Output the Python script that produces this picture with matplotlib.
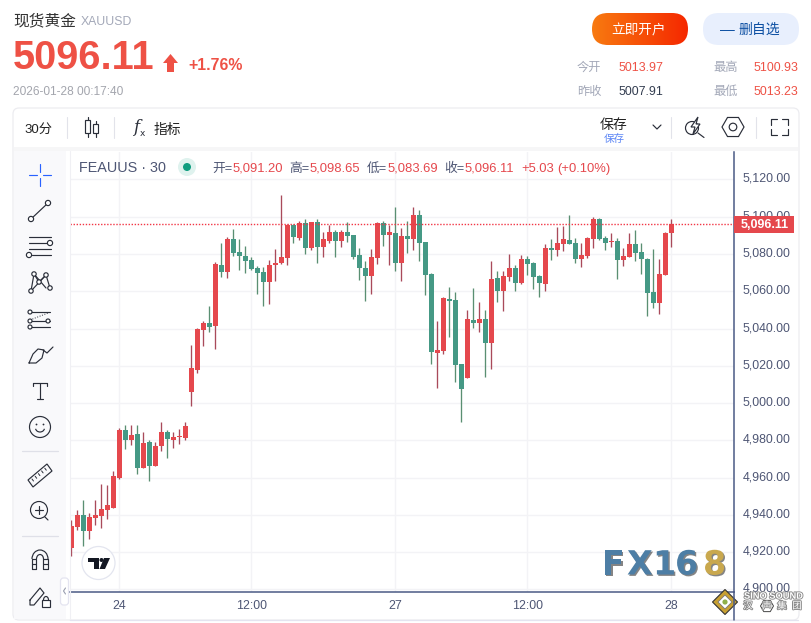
import matplotlib
matplotlib.use('Agg')
import matplotlib.pyplot as plt
import matplotlib.patheffects as pe
import numpy as np
from matplotlib.patches import Circle, FancyBboxPatch, Polygon, Rectangle, RegularPolygon, Arc
from matplotlib.transforms import ScaledTranslation

plt.rcParams['font.family'] = ['Liberation Sans', 'Noto Sans CJK SC']

# 30 minute candles
candle_open = [4922.4, 4933.7, 4940.0, 4931.4, 4938.4, 4939.4, 4942.6, 4943.7, 4959.8, 4985.6,
               4980.2, 4983.4, 4965.2, 4979.1, 4966.3, 4977.0, 4984.5, 4980.2, 4981.8, 4981.3,
               5005.9, 5018.0, 5039.2, 5043.0, 5041.4, 5074.1, 5070.3, 5088.0, 5081.1, 5078.9,
               5076.8, 5072.5, 5070.3, 5065.0, 5074.1, 5075.2, 5077.8, 5095.5, 5088.5, 5096.6,
               5083.2, 5097.2, 5083.7, 5087.0, 5091.8, 5087.0, 5091.8, 5090.2, 5079.5, 5072.5,
               5068.2, 5077.8, 5096.6, 5090.2, 5091.3, 5075.2, 5089.6, 5088.0, 5100.9, 5086.4,
               5069.3, 5026.9, 5028.0, 5055.8, 5055.3, 5021.0, 5013.5, 5044.6, 5043.0, 5045.1,
               5032.2, 5067.1, 5060.1, 5067.6, 5072.5, 5064.4, 5077.3, 5075.2, 5068.2, 5063.9,
               5083.2, 5082.1, 5085.4, 5087.5, 5085.9, 5077.3, 5078.9, 5088.0, 5098.8, 5088.5,
               5086.4, 5087.0, 5076.8, 5078.4, 5085.4, 5081.1, 5077.3, 5059.6, 5053.7, 5068.7,
               5091.20]
candle_high = [4937.3, 4942.6, 4948.0, 4940.9, 4948.0, 4956.6, 4956.1, 4963.6, 4986.6, 4988.3,
               4988.3, 4988.3, 4984.5, 4980.2, 4979.1, 4989.9, 4985.6, 4984.5, 4986.1, 4989.9,
               5031.2, 5040.3, 5044.0, 5052.1, 5075.7, 5085.9, 5089.1, 5093.4, 5088.0, 5084.3,
               5078.4, 5073.5, 5073.0, 5076.8, 5082.7, 5111.6, 5096.1, 5096.1, 5097.7, 5098.8,
               5097.2, 5098.8, 5091.8, 5095.5, 5092.9, 5092.9, 5097.2, 5090.2, 5083.2, 5076.2,
               5082.7, 5097.2, 5097.7, 5095.5, 5105.2, 5093.9, 5097.7, 5105.2, 5103.6, 5086.4,
               5069.8, 5044.0, 5056.9, 5062.3, 5059.6, 5021.0, 5050.0, 5061.7, 5054.2, 5050.0,
               5076.2, 5070.9, 5070.9, 5080.0, 5074.1, 5079.5, 5078.9, 5075.7, 5068.7, 5085.4,
               5088.0, 5094.5, 5095.0, 5100.9, 5088.5, 5085.9, 5089.1, 5099.8, 5099.3, 5089.6,
               5091.3, 5088.5, 5083.2, 5091.3, 5092.9, 5085.9, 5077.8, 5082.7, 5077.3, 5091.8,
               5098.65]
candle_low = [4918.1, 4931.9, 4923.3, 4927.1, 4934.6, 4933.0, 4937.8, 4943.7, 4959.3, 4975.4,
              4977.5, 4962.0, 4965.2, 4958.2, 4966.3, 4974.3, 4970.5, 4975.9, 4978.1, 4980.2,
              4998.4, 5016.3, 5030.6, 5038.1, 5029.0, 5067.6, 5067.1, 5078.9, 5071.4, 5069.8,
              5071.4, 5058.5, 5052.1, 5053.2, 5065.5, 5074.6, 5074.1, 5085.9, 5087.5, 5080.0,
              5082.1, 5075.2, 5078.4, 5085.9, 5078.4, 5083.7, 5086.4, 5077.3, 5066.0, 5054.8,
              5058.5, 5074.6, 5084.3, 5074.1, 5070.9, 5065.5, 5080.5, 5082.1, 5076.2, 5058.0,
              5021.0, 5008.1, 5026.3, 5035.5, 5011.3, 4989.9, 5013.5, 5040.3, 5038.1, 5014.0,
              5018.3, 5054.2, 5049.4, 5065.5, 5060.1, 5063.9, 5068.7, 5061.2, 5056.9, 5060.1,
              5076.8, 5078.9, 5081.6, 5085.4, 5075.2, 5073.0, 5077.8, 5083.2, 5087.5, 5082.1,
              5083.7, 5066.6, 5073.5, 5078.4, 5076.2, 5069.3, 5046.7, 5051.0, 5047.8, 5068.7,
              5083.69]
candle_close = [4934.1, 4940.0, 4931.4, 4938.9, 4940.0, 4943.2, 4945.3, 4960.9, 4985.6, 4980.2,
                4982.9, 4965.2, 4978.6, 4966.3, 4977.0, 4984.5, 4980.7, 4981.8, 4982.3, 4987.8,
                5018.8, 5039.7, 5042.8, 5040.8, 5074.6, 5070.3, 5088.0, 5080.5, 5078.9, 5076.2,
                5071.9, 5069.8, 5065.0, 5074.1, 5075.2, 5078.4, 5095.5, 5089.1, 5096.6, 5083.2,
                5097.2, 5083.7, 5088.0, 5091.8, 5087.0, 5091.8, 5089.6, 5078.4, 5072.5, 5068.2,
                5078.4, 5096.6, 5090.2, 5091.8, 5075.2, 5089.6, 5088.0, 5100.9, 5085.9, 5068.7,
                5027.4, 5028.5, 5056.4, 5054.8, 5020.4, 5007.6, 5045.1, 5043.0, 5045.1, 5032.2,
                5066.6, 5060.1, 5068.2, 5072.5, 5064.4, 5077.3, 5074.6, 5067.6, 5064.4, 5083.2,
                5082.1, 5085.9, 5088.0, 5085.4, 5077.3, 5079.5, 5088.5, 5098.8, 5088.0, 5085.9,
                5087.0, 5076.8, 5078.9, 5085.4, 5080.5, 5077.3, 5059.1, 5053.7, 5069.3, 5091.3,
                5096.11]

last_price = 5096.11
price_ticks = [5120, 5100, 5080, 5060, 5040, 5020, 5000, 4980, 4960, 4940, 4920, 4900]
time_ticks = [8, 30, 54, 76, 100]
time_labels = ['24', '12:00', '27', '12:00', '28']

UP = '#e5484d'
DOWN = '#459985'
UP_WICK = '#a94a5a'
DOWN_WICK = '#5a8f72'
AXIS = '#4a5a85'
LABEL = '#4e5674'
ICON = '#2a2e39'
RED = '#ee5145'

W, H = 812, 623
fig = plt.figure(figsize=(W / 100, H / 100), dpi=100, facecolor='white')

# price chart
ax = fig.add_axes([70 / W, 1 - 592 / H, 664.3 / W, 440 / H], facecolor='white')
ax.set_xlim(-0.217, 110.5)
ax.set_ylim(4898.65, 5134.71)

ax.set_yticks(price_ticks)
ax.set_yticklabels(['{:,.2f}'.format(v) for v in price_ticks])
ax.set_xticks(time_ticks)
ax.set_xticklabels(time_labels)
ax.yaxis.tick_right()
ax.tick_params(length=0, labelsize=8.9, labelcolor=LABEL)
ax.tick_params(axis='y', pad=6)
ax.tick_params(axis='x', pad=6)
shift = ScaledTranslation(0, 2 / 100, fig.dpi_scale_trans)
for lab in ax.get_yticklabels():
    lab.set_transform(lab.get_transform() + shift)
ax.grid(color='#f3f3f6', lw=1)
ax.set_axisbelow(True)
for side in ['top', 'left']:
    ax.spines[side].set_visible(False)
for side in ['bottom', 'right']:
    ax.spines[side].set_color(AXIS)
    ax.spines[side].set_linewidth(1.1)

xs = np.arange(len(candle_open))
opens = np.array(candle_open)
closes = np.array(candle_close)
is_up = closes >= opens
ax.vlines(xs, candle_low, candle_high, colors=np.where(is_up, UP_WICK, DOWN_WICK), lw=0.95, zorder=2)
ax.bar(xs, np.maximum(np.abs(closes - opens), 0.6), bottom=np.minimum(opens, closes),
       width=0.83, color=np.where(is_up, UP, DOWN), zorder=3)
ax.axhline(last_price, color='#f23645', lw=1, ls=(0, (1, 1.2)), zorder=4)

# everything around the chart is drawn in pixel coordinates
ui = fig.add_axes([0, 0, 1, 1], zorder=5)
ui.patch.set_alpha(0)
ui.axis('off')


def label(x, y, s, size=8.6, color='#333333', ha='left', **kw):
    # the CJK fallback pushes centred text up a little
    ui.text(x, y + 2.7, s, fontsize=size, color=color, ha=ha, va='center', **kw)


def line(xx, yy, color=ICON, lw=0.85):
    ui.plot(xx, yy, color=color, lw=lw, solid_capstyle='round')


def dot(x, y, r=2.6):
    ui.add_patch(Circle((x, y), r, fc='white', ec=ICON, lw=0.85, zorder=4))


# header
label(13, 18.6, '现货黄金', 11.3)
label(81, 19, 'XAUUSD', 8.8, '#a3a8b8')
label(13, 55, '5096.11', 28.6, RED, weight='bold')
ui.add_patch(Polygon([(170.5, 54), (178, 63), (174, 63), (174, 72), (167, 72), (167, 63), (163, 63)], fc=RED))
label(188, 63, '+1.76%', 11.4, RED, weight='bold')
label(13, 89, '2026-01-28 00:17:40', 8.6, '#a3a5ad')

btn = FancyBboxPatch((592, 13), 96, 32, boxstyle='round,pad=0,rounding_size=16', fc='none', ec='none')
ui.add_patch(btn)
grad = np.linspace(0, 1, 96).reshape(1, -1, 1)
grad = (1 - grad) * np.array([0.973, 0.478, 0.063]) + grad * np.array([0.961, 0.157, 0.0])
im = ui.imshow(grad, extent=(592, 688, 45, 13), aspect='auto')
im.set_clip_path(btn)
label(639, 27.5, '立即开户', 9.8, 'white', ha='center')
ui.add_patch(FancyBboxPatch((703, 13), 96, 32, boxstyle='round,pad=0,rounding_size=16', fc='#e8effd', ec='none'))
label(720, 27.5, '—', 10.6, '#0b4ea2')
label(738, 27.5, '删自选', 10, '#0b4ea2')

for x, y, s in [(577, 65, '今开'), (713, 65, '最高'), (577, 89, '昨收'), (713, 89, '最低')]:
    label(x, y, s, 8.8, '#a3a8b8')
label(619, 65, '5013.97', 8.9, RED)
label(754, 65, '5100.93', 8.9, RED)
label(619, 89, '5007.91', 8.9, '#333d50')
label(754, 89, '5013.23', 8.9, RED)

# panel, toolbar bands
ui.add_patch(FancyBboxPatch((13, 108), 786, 512, boxstyle='round,pad=0,rounding_size=6', fc='none', ec='#ececf0', lw=0.9, zorder=1))
ui.add_patch(Rectangle((14, 147), 784, 4, fc='#f6f6f7', ec='none'))
ui.add_patch(Rectangle((14, 151), 52, 468, fc='#f9f9fb', ec='none'))
line([70, 70], [151, 620], '#f0f0f4', 0.8)
line([70, 798], [620, 620], '#e4e4f0', 0.9)
line([734.3, 734.3], [592, 620], AXIS, 1.1)

# top toolbar
label(24, 127.5, '30分', 9.5, '#222222')
for x in [67, 114, 671, 756]:
    line([x, x], [117, 138], '#e2e3ea', 0.8)
line([87.7, 87.7], [117, 137])
ui.add_patch(Rectangle((85.5, 120), 4.4, 13, fc='white', ec=ICON, lw=0.85, zorder=4))
line([95.6, 95.6], [121, 137])
ui.add_patch(Rectangle((93.5, 124), 4.2, 9, fc='white', ec=ICON, lw=0.85, zorder=4))
ui.text(136, 127, 'f', fontsize=12, family='DejaVu Serif', style='italic', ha='center', va='center', color=ICON)
ui.text(142, 133, 'x', fontsize=6.5, family='DejaVu Sans', ha='center', va='center', color=ICON)
label(154, 127.5, '指标', 9.9, '#222222')
label(614, 122, '保存', 10, '#222222', ha='center')
label(614, 136, '保存', 7.6, '#5b85f5', ha='center')
line([653, 657, 661], [125, 129, 125])
ui.add_patch(Circle((692, 128), 6.5, fc='none', ec=ICON, lw=0.85))
ui.add_patch(Polygon([(698, 117), (691, 127), (695, 127), (693, 134), (700, 124), (696, 124)], fc='white', ec=ICON, lw=0.85, zorder=4))
line([698, 704], [133, 137.5])
ui.add_patch(RegularPolygon((733, 127), 6, radius=11, orientation=np.pi / 6, fc='none', ec=ICON, lw=0.85))
ui.add_patch(Circle((733, 127), 3.8, fc='none', ec=ICON, lw=0.85))
for cx, cy, dx, dy in [(771, 119, 1, 1), (788, 119, -1, 1), (771, 135, 1, -1), (788, 135, -1, -1)]:
    line([cx + 6 * dx, cx, cx], [cy, cy, cy + 6 * dy])

# legend line
label(79, 165.6, 'FEAUUS · 30', 10.4, LABEL)
ui.add_patch(Circle((187, 167), 9, fc='#dff2ee', ec='none'))
ui.add_patch(Circle((187, 167), 4, fc='#0f9d7f', ec='none'))
for x, s in [(212, '开='), (289.7, '高='), (366.7, '低='), (443.7, '收=')]:
    label(x, 166, s, 9.2, LABEL)
for x, s in [(232.7, '5,091.20'), (310, '5,098.65'), (387.3, '5,083.69'), (464.3, '5,096.11'),
             (521.3, '+5.03'), (557.7, '(+0.10%)')]:
    label(x, 166, s, 9.4, UP)

# left toolbar
blue = '#2962ff'
line([29, 37], [175, 175], blue)
line([43, 51], [175, 175], blue)
line([40, 40], [164, 172], blue)
line([40, 40], [178, 186], blue)
line([31, 48], [219, 203])
dot(31, 219)
dot(48, 203)
line([29, 51], [237, 237])
line([29, 48], [243, 243])
line([29, 51], [249, 249])
line([32, 51], [255, 255])
dot(50, 243)
dot(29, 255)
line([31, 34, 39, 46, 50], [291, 274, 282, 275, 288])
line([34, 46], [274, 288])
line([31, 46], [291, 275])
for px, py in [(31, 291), (34, 274), (39, 282), (46, 275), (50, 288)]:
    dot(px, py, 2.2)
line([30, 50], [312, 312])
line([30, 50], [321, 321])
line([30, 50], [327, 327])
ui.plot([30, 48], [320, 313], color=ICON, lw=0.7, ls=':')
dot(30, 312, 2)
dot(30, 321, 2)
dot(48, 321, 2)
dot(30, 327, 2)
line([29, 33, 38, 44, 42, 36, 29], [363, 354, 349, 350, 358, 363, 363])
line([43, 47, 53], [350, 353, 347])
line([33, 47], [383, 383])
line([40, 40], [383, 399])
line([33, 33], [383, 386])
line([47, 47], [383, 386])
line([37, 43], [399, 399])
ui.add_patch(Circle((40, 427), 10.5, fc='none', ec=ICON, lw=0.85))
ui.add_patch(Circle((36.5, 424.5), 0.9, fc=ICON))
ui.add_patch(Circle((43.5, 424.5), 0.9, fc=ICON))
ui.add_patch(Arc((40, 428), 9, 8, theta1=10, theta2=170, ec=ICON, lw=0.85))
line([22, 58], [451, 451], '#dfe0e8', 0.9)
ui.add_patch(Polygon([(28, 480), (47, 464), (52, 471), (33, 487)], fc='none', ec=ICON, lw=0.85))
for k in range(5):
    line([32 + 3.2 * k, 33.5 + 3.2 * k], [479 - 2.7 * k, 481 - 2.7 * k], ICON, 0.7)
ui.add_patch(Circle((39, 510), 8.5, fc='none', ec=ICON, lw=0.85))
line([45, 48], [517, 520])
line([35, 43], [510, 510])
line([39, 39], [506, 514])
line([22, 58], [536, 536], '#dfe0e8', 0.9)
ui.add_patch(Arc((40, 559), 16, 18, theta1=180, theta2=360, ec=ICON, lw=0.85))
ui.add_patch(Arc((40, 559), 7, 9, theta1=180, theta2=360, ec=ICON, lw=0.85))
line([32, 32, 36.5, 36.5, 32], [559, 569, 569, 559, 559])
line([43.5, 43.5, 48, 48, 43.5], [559, 569, 569, 559, 559])
line([32, 36.5], [564, 564])
line([43.5, 48], [564, 564])
line([30, 30, 34, 44, 40, 30], [600, 605, 605, 593, 588, 600])
ui.add_patch(Rectangle((42, 600), 8, 7, fc='white', ec=ICON, lw=0.85, zorder=4))
ui.add_patch(Arc((46, 600), 5, 7, theta1=180, theta2=360, ec=ICON, lw=0.85))
ui.add_patch(FancyBboxPatch((60.5, 578), 8, 27, boxstyle='round,pad=0,rounding_size=3', fc='white', ec='#e4e4f0', lw=0.9))
line([65.5, 63.5, 65.5], [588, 591, 594], '#9a9fb0', 0.8)

# price tag on the axis
ui.add_patch(Rectangle((734.5, 216), 60, 17, fc=UP, ec='none'))
label(741, 221.8, '{:,.2f}'.format(last_price), 9, 'white', weight='bold')

# tradingview badge
ui.add_patch(Circle((98.5, 563), 16.5, fc='white', ec='#e3e5ef', lw=0.9))
ui.add_patch(Polygon([(88, 558), (99, 558), (99, 569), (94, 569), (94, 562), (88, 562)], fc='#131722'))
ui.add_patch(Circle((101.5, 560), 2, fc='#131722'))
ui.add_patch(Polygon([(104, 558), (110, 558), (105, 569), (99.5, 569)], fc='#131722'))

# fx168 mark
shadow = [pe.withSimplePatchShadow(offset=(1, -1), shadow_rgbFace='#333333', alpha=0.6)]
for x, s, c in [(602, 'F', '#4d7ea5'), (627, 'X', '#4d7ea5'), (653, '1', '#4d7ea5'), (675, '6', '#4d7ea5'), (703, '8', '#c9a84e')]:
    ui.text(x, 565, s, fontsize=24, family='DejaVu Sans', weight='bold', color=c, ha='left', va='center', path_effects=shadow)

# sino sound mark
ui.add_patch(RegularPolygon((725, 602), 4, radius=12.5, fc='#c8a032', ec='#333333', lw=0.8))
ui.add_patch(RegularPolygon((725, 602), 4, radius=7, fc='white', ec='#777777', lw=0.6))
ui.add_patch(Circle((725, 602), 2.6, fc='#8fb04a', ec='none'))
halo = [pe.withStroke(linewidth=1.3, foreground='#8a8a8a')]
label(744, 593.5, 'SINO SOUND', 6.7, 'white', weight='bold', path_effects=halo)
ui.add_patch(RegularPolygon((767, 606), 6, radius=6.5, orientation=np.pi / 6, fc='none', ec='#444444', lw=0.7))
for x, s in [(748, '汉'), (767, '声'), (782, '集'), (797, '团')]:
    label(x, 603.5, s, 6.8, 'white', ha='center', path_effects=halo)

ui.set_xlim(0, W)
ui.set_ylim(H, 0)

fig.savefig('out.png', dpi=100)
